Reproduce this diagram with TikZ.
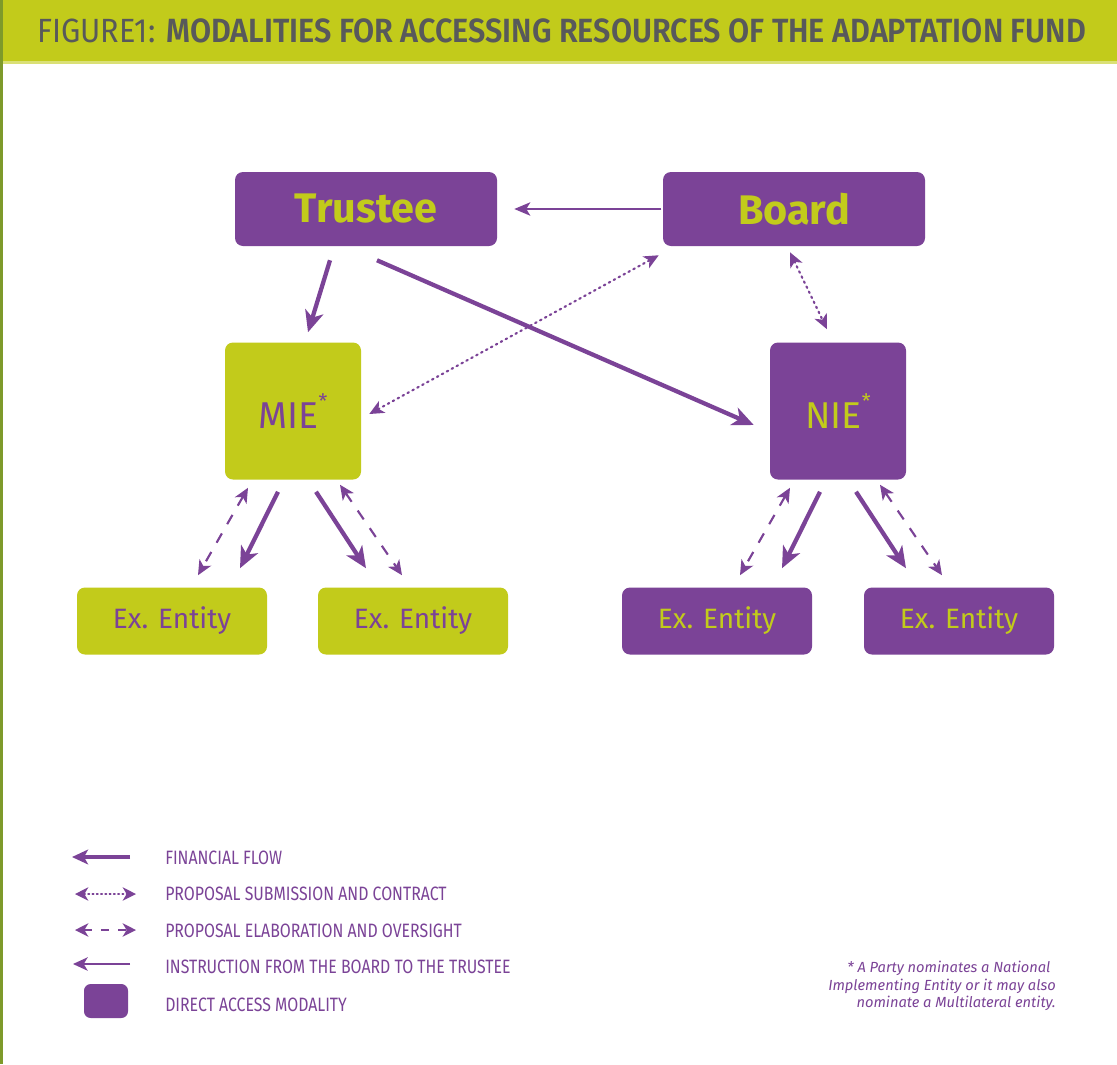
\documentclass[tikz,border=0pt]{standalone}
\usepackage{fontspec}
\setmainfont{Fira Sans}
\newfontfamily\condfont{Fira Sans}[FakeStretch=0.82]
\newfontfamily\titlefont{Fira Sans}[FakeStretch=0.91]
\newfontfamily\titlebold{Fira Sans SemiBold}[FakeStretch=0.91]
\usetikzlibrary{arrows.meta}
\definecolor{afgreen}{HTML}{C2CB1B}
\definecolor{afpurple}{HTML}{7B4397}
\definecolor{afgray}{HTML}{58595B}
\definecolor{afline}{HTML}{7E9A2A}
\tikzset{
  pbox/.style={fill=afpurple, rounded corners=6pt, inner sep=0pt},
  gbox/.style={fill=afgreen, rounded corners=6pt, inner sep=0pt},
  fin/.style={afpurple, line width=3.2pt, -{Stealth[length=16pt,width=14pt,inset=4.5pt]}},
  instr/.style={afpurple, line width=1.6pt, -{Stealth[length=12pt,width=10pt,inset=3pt]}},
  prop/.style={afpurple, line width=1.6pt, dash pattern=on 1.2pt off 3pt, line cap=round, {Stealth[length=11pt,width=10pt,inset=3pt]}-{Stealth[length=11pt,width=10pt,inset=3pt]}},
  elab/.style={afpurple, line width=1.6pt, dash pattern=on 8pt off 8pt, {Stealth[length=11pt,width=10pt,inset=3pt]}-{Stealth[length=11pt,width=10pt,inset=3pt]}},
  legtext/.style={anchor=west, text=afpurple, font=\condfont\fontsize{14.5pt}{16pt}\selectfont, inner sep=0pt},
  entity/.style={minimum width=190*0.75pt, minimum height=67*0.75pt, font=\fontsize{21pt}{23pt}\selectfont},
}
\begin{document}
\begin{tikzpicture}[x=0.75pt,y=-0.75pt]
\useasboundingbox (0,0) rectangle (1117,1064);
\fill[white] (0,0) rectangle (1117,1064);
% header
\fill[afgreen] (0,0) rectangle (1117,62);
\fill[afgreen!60!white] (0,61) rectangle (1117,64);
\fill[afline] (0,0) rectangle (2.5,1064);
\node[anchor=west, inner sep=0pt, text=afgray] (title) at (37,31)
  {\titlefont\fontsize{25.2pt}{28pt}\selectfont FIGURE1: \titlebold MODALITIES FOR ACCESSING RESOURCES OF THE ADAPTATION FUND};
% main nodes
\node[pbox, minimum width=262*0.75pt, minimum height=74*0.75pt, text=afgreen, font=\bfseries\fontsize{31pt}{34pt}\selectfont] (trustee) at (366,209) {Trustee};
\node[pbox, minimum width=262*0.75pt, minimum height=74*0.75pt, text=afgreen, font=\bfseries\fontsize{31pt}{34pt}\selectfont] (board) at (794,209) {Board};
\node[gbox, minimum width=136*0.75pt, minimum height=137*0.75pt, text=afpurple, font=\fontsize{28pt}{30pt}\selectfont] (mie) at (293,411) {MIE\raisebox{0.55em}{\fontsize{15pt}{15pt}\selectfont *}};
\node[pbox, minimum width=136*0.75pt, minimum height=137*0.75pt, text=afgreen, font=\fontsize{28pt}{30pt}\selectfont] (nie) at (838,411) {NIE\raisebox{0.55em}{\fontsize{15pt}{15pt}\selectfont *}};
\node[gbox, entity, text=afpurple] (e1) at (172,621) {Ex. Entity};
\node[gbox, entity, text=afpurple] (e2) at (413,621) {Ex. Entity};
\node[pbox, entity, text=afgreen] (e3) at (717,621) {Ex. Entity};
\node[pbox, entity, text=afgreen] (e4) at (959,621) {Ex. Entity};
% connectors
\draw[instr] ([xshift=-1pt]board.west) -- ([xshift=17*0.75pt]trustee.east);
\draw[fin] ([xshift=-36*0.75pt,yshift=-14*0.75pt]trustee.south) -- ([xshift=15*0.75pt,yshift=10*0.75pt]mie.north);
\draw[fin] ([xshift=11*0.75pt,yshift=-14*0.75pt]trustee.south) -- ([xshift=-16*0.75pt,yshift=-14*0.75pt]nie.west);
\draw[prop] ([xshift=8*0.75pt,yshift=-3*0.75pt]mie.east) -- ([xshift=-4*0.75pt,yshift=-9*0.75pt]board.south west);
\draw[prop] ([xshift=-4*0.75pt,yshift=-6*0.75pt]board.south) -- ([xshift=-11*0.75pt,yshift=13*0.75pt]nie.north);
% MIE bottom
\draw[elab] ([xshift=-45*0.75pt,yshift=-8*0.75pt]mie.south) -- ([xshift=26*0.75pt,yshift=12*0.75pt]e1.north);
\draw[fin] ([xshift=-15*0.75pt,yshift=-12*0.75pt]mie.south) -- ([xshift=68*0.75pt,yshift=19*0.75pt]e1.north);
\draw[fin] ([xshift=23*0.75pt,yshift=-12*0.75pt]mie.south) -- ([xshift=-47*0.75pt,yshift=19*0.75pt]e2.north);
\draw[elab] ([xshift=47*0.75pt,yshift=-5*0.75pt]mie.south) -- ([xshift=-11*0.75pt,yshift=12*0.75pt]e2.north);
% NIE bottom
\draw[elab] ([xshift=-48*0.75pt,yshift=-8*0.75pt]nie.south) -- ([xshift=23*0.75pt,yshift=12*0.75pt]e3.north);
\draw[fin] ([xshift=-18*0.75pt,yshift=-12*0.75pt]nie.south) -- ([xshift=65*0.75pt,yshift=19*0.75pt]e3.north);
\draw[fin] ([xshift=18*0.75pt,yshift=-12*0.75pt]nie.south) -- ([xshift=-53*0.75pt,yshift=19*0.75pt]e4.north);
\draw[elab] ([xshift=42*0.75pt,yshift=-5*0.75pt]nie.south) -- ([xshift=-17*0.75pt,yshift=12*0.75pt]e4.north);
% legend
\coordinate (l1a) at (130,857); \coordinate (l1b) at (72,857);
\coordinate (l2a) at (75,894); \coordinate (l2b) at (136,894);
\coordinate (l3a) at (75,930); \coordinate (l3b) at (136,930);
\coordinate (l4a) at (130,964); \coordinate (l4b) at (73,964);
\draw[fin, line width=2.6pt, -{Stealth[length=12pt,width=11pt,inset=3pt]}] (l1a) -- (l1b);
\draw[prop, line width=1.2pt, dash pattern=on 1pt off 2.2pt, {Stealth[length=10pt,width=10pt,inset=3pt]}-{Stealth[length=10pt,width=10pt,inset=3pt]}] (l2a) -- (l2b);
\draw[elab, line width=2pt, dash pattern=on 6pt off 7pt, {Stealth[length=10pt,width=10pt,inset=3pt]}-{Stealth[length=10pt,width=10pt,inset=3pt]}] (l3a) -- (l3b);
\draw[instr, line width=1.6pt, -{Stealth[length=11pt,width=10pt,inset=3pt]}] (l4a) -- (l4b);
\node[pbox, rounded corners=5pt, minimum width=44*0.75pt, minimum height=34*0.75pt] (l5) at (106,1001) {};
\node[legtext] (t1) at (165,858) {FINANCIAL FLOW};
\node[legtext] (t2) at (165,894) {PROPOSAL SUBMISSION AND CONTRACT};
\node[legtext] (t3) at (165,931) {PROPOSAL ELABORATION AND OVERSIGHT};
\node[legtext] (t4) at (165,967) {INSTRUCTION FROM THE BOARD TO THE TRUSTEE};
\node[legtext] (t5) at (165,1005) {DIRECT ACCESS MODALITY};
% footnote
\node[anchor=north east, align=right, text=afpurple, inner sep=0pt, font=\itshape\fontsize{11pt}{13pt}\selectfont] (fn) at (1056,961)
  {* A Party nominates a National\hspace*{4pt}\\Implementing Entity or it may also\hspace*{4pt}\\nominate a Multilateral entity.};
\end{tikzpicture}
\end{document}
